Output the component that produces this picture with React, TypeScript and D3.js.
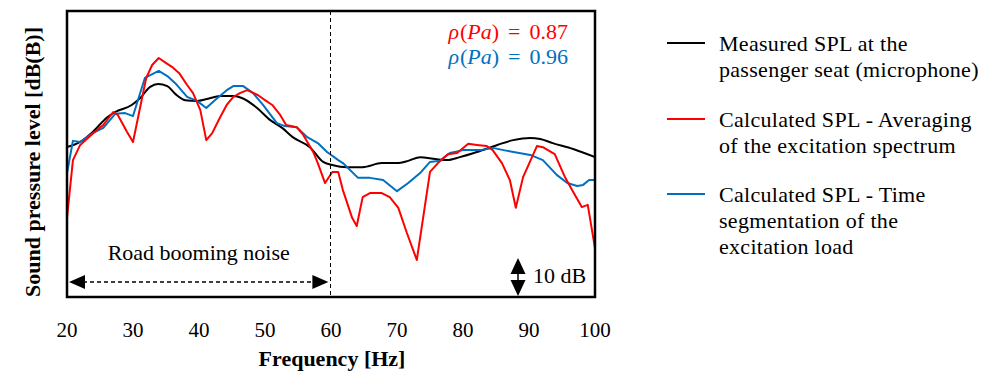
import React from "react";
import * as d3 from "d3";

const xTicks = [20, 30, 40, 50, 60, 70, 80, 90, 100];

const freqMeasured = [20.0, 22.0, 23.9, 26.1, 27.3, 29.8, 31.1, 32.6, 33.8, 35.2, 36.4, 37.9, 39.7, 41.2, 43.2, 45.2, 46.5, 48.8, 50.8, 52.6, 54.2, 56.8, 58.8, 60.2, 62.4, 64.8, 67.7, 70.0, 71.7, 73.5, 75.8, 77.6, 79.5, 82.1, 85.2, 87.6, 90.2, 91.7, 93.6, 96.7, 100];
const splMeasured = [70.5, 71.9, 74.6, 78.6, 80.0, 81.9, 83.8, 86.8, 87.6, 87.0, 84.9, 83.2, 83.0, 83.5, 84.3, 84.3, 83.8, 81.1, 77.8, 75.7, 73.2, 70.5, 66.5, 65.7, 65.1, 65.1, 66.2, 66.2, 66.8, 67.8, 67.3, 67.0, 67.8, 69.2, 71.1, 72.4, 73.0, 72.7, 71.6, 70.0, 67.8];

const freqAveraging = [20.0, 20.9, 22.0, 24.0, 25.5, 27.0, 27.7, 29.1, 30.0, 32.0, 32.9, 33.9, 34.8, 35.9, 37.0, 38.2, 39.1, 40.2, 41.1, 42.0, 43.2, 44.2, 45.2, 46.2, 47.3, 48.9, 50.0, 51.1, 52.3, 53.2, 54.8, 55.8, 57.3, 58.0, 59.1, 60.2, 61.1, 61.8, 63.2, 63.9, 64.8, 65.9, 67.7, 68.9, 70.2, 71.5, 73.0, 75.0, 76.2, 77.7, 79.1, 80.8, 82.1, 83.6, 84.5, 85.9, 87.1, 88.0, 89.1, 91.2, 92.1, 93.9, 95.5, 96.7, 98.0, 98.9, 100];
const splAveraging = [51.4, 67.0, 71.1, 74.3, 76.5, 80.0, 79.2, 74.6, 71.9, 89.2, 92.7, 94.6, 93.5, 92.2, 90.5, 87.3, 85.1, 80.5, 72.4, 74.3, 78.6, 81.9, 84.1, 85.1, 85.9, 84.6, 83.2, 81.9, 79.2, 76.5, 75.9, 73.8, 69.2, 66.2, 60.8, 63.8, 63.8, 58.9, 51.4, 49.2, 57.0, 58.1, 58.1, 57.0, 54.1, 47.3, 40.0, 63.8, 66.2, 68.6, 68.9, 71.4, 71.1, 70.8, 69.7, 66.2, 61.6, 54.1, 62.4, 70.8, 70.5, 68.6, 62.2, 58.4, 54.3, 54.9, 43.2];

const freqSegmentation = [20.0, 20.9, 22.0, 23.9, 25.5, 27.3, 28.8, 30.0, 31.8, 33.9, 35.2, 36.4, 38.2, 39.7, 41.1, 42.4, 44.2, 45.2, 46.7, 48.2, 49.7, 51.8, 53.0, 54.8, 56.4, 58.0, 59.4, 61.1, 61.8, 64.1, 65.9, 67.9, 70.0, 71.7, 73.5, 75.0, 76.5, 78.0, 80.0, 82.6, 84.5, 86.7, 90.2, 92.1, 94.2, 95.8, 97.3, 98.2, 99.1, 100];
const splSegmentation = [63.5, 72.2, 71.9, 74.3, 75.7, 79.5, 79.7, 78.9, 89.2, 91.1, 89.7, 87.8, 84.1, 83.0, 81.1, 83.2, 85.9, 87.0, 87.0, 85.1, 81.9, 77.0, 76.2, 75.9, 73.2, 71.6, 69.2, 67.0, 66.2, 62.2, 62.2, 61.6, 58.6, 60.8, 63.5, 66.5, 66.8, 68.9, 69.7, 69.7, 70.3, 69.5, 68.4, 67.0, 63.0, 60.8, 60.0, 60.3, 61.6, 61.6];

const legendLabels = [
  ["Measured SPL at the", "passenger seat (microphone)"],
  ["Calculated SPL - Averaging", "of the excitation spectrum"],
  ["Calculated SPL - Time", "segmentation of the", "excitation load"],
];
const seriesColors = ["#000000", "#ff0000", "#0070c0"];
const correlations = ["0.87", "0.96"];

const W = 998;
const H = 374;
const L = 67, R = 595, T = 11, B = 297;
const FONT = "'Liberation Serif', serif";

export default function App() {
  const x = d3.scaleLinear().domain([20, 100]).range([L, R]);
  const y = d3.scaleLinear().domain([30, 107.3]).range([B, T]);

  const mk = (fs: number[], vs: number[]) => fs.map((f, i) => [f, vs[i]] as [number, number]);
  const lineLin = d3.line<[number, number]>().x((d) => x(d[0])).y((d) => y(d[1]));
  const lineSmooth = d3
    .line<[number, number]>()
    .x((d) => x(d[0]))
    .y((d) => y(d[1]))
    .curve(d3.curveMonotoneX);

  const series = [
    { d: lineSmooth(mk(freqMeasured, splMeasured)), c: seriesColors[0] },
    { d: lineLin(mk(freqSegmentation, splSegmentation)), c: seriesColors[2] },
    { d: lineLin(mk(freqAveraging, splAveraging)), c: seriesColors[1] },
  ];

  const x60 = Math.round(x(60)) - 0.5;
  const arrowY = 282;
  const ax0 = x(20) + 2;
  const ax1 = x(59.6);
  const vx = 518;
  const vy0 = 258, vy1 = 296;

  const legendY = [43, 119, 194];

  return (
    <svg
      width={W}
      height={H}
      style={{ position: "absolute", left: 0, top: 0, background: "#fff" }}
      fontFamily={FONT}
    >
      <rect x={0} y={0} width={W} height={H} fill="#fff" />
      <defs>
        <clipPath id="plotClip">
          <rect x={L} y={T} width={R - L} height={B - T} />
        </clipPath>
      </defs>

      {/* series */}
      <g clipPath="url(#plotClip)">
        {series.map((s, i) => (
          <path key={i} d={s.d || ""} fill="none" stroke={s.c} strokeWidth={2} strokeLinejoin="round" />
        ))}
      </g>

      {/* 60 Hz divider */}
      <line x1={x60} x2={x60} y1={T} y2={B} stroke="#000" strokeWidth={1} strokeDasharray="4,3" />

      {/* plot frame */}
      <rect x={L} y={T} width={R - L} height={B - T} fill="none" stroke="#000" strokeWidth={2.5} />

      {/* road booming noise arrow */}
      <line x1={ax0 + 14} x2={ax1 - 14} y1={arrowY} y2={arrowY} stroke="#000" strokeWidth={1.3} strokeDasharray="4,3" />
      <polygon points={`${ax0},${arrowY} ${ax0 + 16},${arrowY - 7} ${ax0 + 16},${arrowY + 7}`} fill="#000" />
      <polygon points={`${ax1},${arrowY} ${ax1 - 16},${arrowY - 7} ${ax1 - 16},${arrowY + 7}`} fill="#000" />
      <text x={(ax0 + ax1) / 2} y={260} textAnchor="middle" fontSize={22}>
        Road booming noise
      </text>

      {/* 10 dB scale arrow */}
      <line x1={vx} x2={vx} y1={vy0 + 12} y2={vy1 - 12} stroke="#000" strokeWidth={1.5} />
      <polygon points={`${vx},${vy0} ${vx - 7.5},${vy0 + 16} ${vx + 7.5},${vy0 + 16}`} fill="#000" />
      <polygon points={`${vx},${vy1} ${vx - 7.5},${vy1 - 16} ${vx + 7.5},${vy1 - 16}`} fill="#000" />
      <text x={533} y={283} fontSize={22}>
        10 dB
      </text>

      {/* correlation annotations */}
      {correlations.map((t, i) => (
        <text key={i} x={568} y={39 + i * 25} textAnchor="end" fontSize={22} fill={seriesColors[i + 1]}>
          <tspan fontStyle="italic">ρ</tspan>
          <tspan dx={1}>(</tspan>
          <tspan fontStyle="italic">Pa</tspan>
          <tspan>)</tspan>
          <tspan dx={9}>=</tspan>
          <tspan dx={9}>{t}</tspan>
        </text>
      ))}

      {/* x tick labels */}
      {xTicks.map((t) => (
        <text key={t} x={x(t)} y={337} textAnchor="middle" fontSize={21}>
          {t}
        </text>
      ))}

      {/* axis titles */}
      <text x={(L + R) / 2 + 1} y={366} textAnchor="middle" fontSize={22} fontWeight="bold">
        Frequency [Hz]
      </text>
      <text
        transform={`translate(40,${(T + B) / 2 + 8}) rotate(-90)`}
        textAnchor="middle"
        fontSize={22}
        fontWeight="bold"
      >
        Sound pressure level [dB(B)]
      </text>

      {/* legend */}
      {legendLabels.map((lines, i) => (
        <g key={i}>
          <line x1={667} x2={705} y1={legendY[i]} y2={legendY[i]} stroke={seriesColors[i]} strokeWidth={2} />
          {lines.map((ln, j) => (
            <text key={j} x={719} y={legendY[i] + 8 + j * 26} fontSize={22} letterSpacing={0.3}>
              {ln}
            </text>
          ))}
        </g>
      ))}
    </svg>
  );
}
